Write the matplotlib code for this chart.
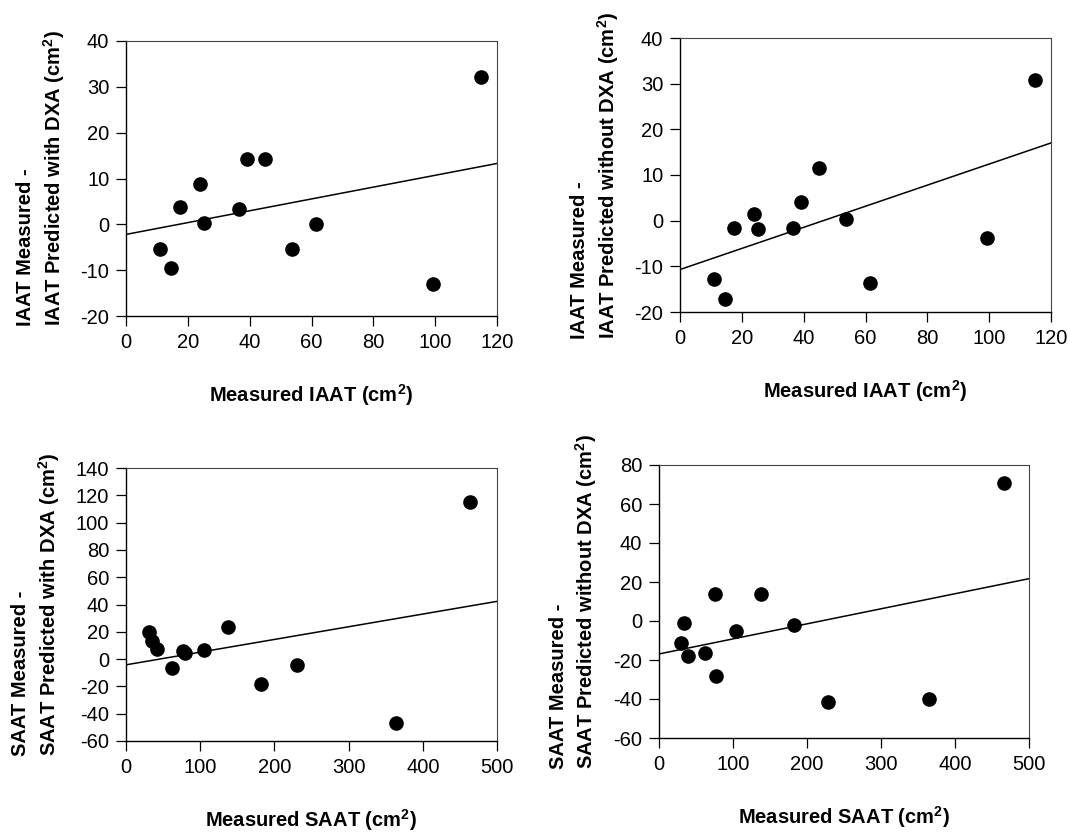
import numpy as np
import matplotlib
matplotlib.use("Agg")
import matplotlib.pyplot as plt

plt.rcParams['font.family'] = ['Liberation Sans', 'DejaVu Sans']
plt.rcParams['axes.unicode_minus'] = False
plt.rcParams['mathtext.fontset'] = 'custom'
plt.rcParams['mathtext.rm'] = 'Liberation Sans'
plt.rcParams['mathtext.bf'] = 'Liberation Sans:bold'

# ---- data ----
iaat_measured = [11.0, 14.6, 17.5, 23.8, 25.2, 36.6, 39.1, 45.1, 53.6, 61.3, 99.2, 114.8]
iaat_diff_with_dxa = [-5.4, -9.5, 3.8, 8.7, 0.4, 3.4, 14.2, 14.2, -5.4, 0.1, -13.0, 32.2]
iaat_diff_without_dxa = [-12.7, -17.2, -1.6, 1.5, -1.9, -1.6, 4.0, 11.5, 0.4, -13.6, -3.7, 30.9]

saat_measured_p3 = [30.6, 35.1, 42.3, 62.5, 76.4, 80.0, 105.2, 137.6, 181.7, 230.2, 363.8, 463.1]
saat_diff_with_dxa = [19.8, 13.2, 7.1, -6.4, 6.1, 4.6, 6.8, 23.5, -18.1, -4.6, -46.5, 114.9]
saat_measured_p4 = [29.7, 33.3, 39.6, 62.2, 76.1, 77.0, 103.6, 138.3, 182.0, 228.8, 364.4, 465.8]
saat_diff_without_dxa = [-11.3, -1.2, -17.8, -16.6, 14.0, -28.2, -5.1, 14.0, -1.9, -41.6, -40.0, 71.0]

fit_intercepts = [-2.2, -10.7, -4.2, -16.9]
fit_slopes = [0.129, 0.231, 0.093, 0.0772]

x_labels = ['Measured IAAT (cm$^{\\mathbf{2}}$)', 'Measured IAAT (cm$^{\\mathbf{2}}$)',
            'Measured SAAT (cm$^{\\mathbf{2}}$)', 'Measured SAAT (cm$^{\\mathbf{2}}$)']
y_labels = ['IAAT Measured -\nIAAT Predicted with DXA (cm$^{\\mathbf{2}}$)',
            'IAAT Measured -\nIAAT Predicted without DXA (cm$^{\\mathbf{2}}$)',
            'SAAT Measured -\nSAAT Predicted with DXA (cm$^{\\mathbf{2}}$)',
            'SAAT Measured -\nSAAT Predicted without DXA (cm$^{\\mathbf{2}}$)']

x_ticks = [np.arange(0, 121, 20), np.arange(0, 121, 20),
           np.arange(0, 501, 100), np.arange(0, 501, 100)]
y_ticks = [np.arange(-20, 41, 10), np.arange(-20, 41, 10),
           np.arange(-60, 141, 20), np.arange(-60, 81, 20)]

xs = [iaat_measured, iaat_measured, saat_measured_p3, saat_measured_p4]
ys = [iaat_diff_with_dxa, iaat_diff_without_dxa, saat_diff_with_dxa, saat_diff_without_dxa]

# ---- layout (pixels) ----
W, H = 1070, 832
boxes = [(126, 497, 41, 316), (680, 1051, 38, 312), (126, 497, 468, 741), (659, 1029, 465, 738)]

fig = plt.figure(figsize=(W / 100, H / 100), dpi=100)

for i in range(4):
    l, r, t, b = boxes[i]
    ax = fig.add_axes([l / W, (H - b) / H, (r - l) / W, (b - t) / H])
    x = np.array(xs[i]); y = np.array(ys[i])
    ax.plot(x, y, 'o', color='black', markersize=9.5, zorder=3)
    xt = x_ticks[i]; yt = y_ticks[i]
    xx = np.array([xt[0], xt[-1]])
    ax.plot(xx, fit_intercepts[i] + fit_slopes[i] * xx, color='black', linewidth=1.1, zorder=2)
    ax.set_xlim(xt[0], xt[-1]); ax.set_ylim(yt[0], yt[-1])
    ax.set_xticks(xt); ax.set_yticks(yt)
    ax.tick_params(direction='out', length=7, width=0.9, labelsize=14.5, pad=5, colors='black')
    for s in ['left', 'bottom']:
        ax.spines[s].set_linewidth(1.0)
    for s in ['top', 'right']:
        ax.spines[s].set_linewidth(0.8)
        ax.spines[s].set_color('#444444')
    ax.set_xlabel(x_labels[i], fontsize=14.5, fontweight='bold', labelpad=22)
    ax.set_ylabel(y_labels[i], fontsize=14.5, fontweight='bold', labelpad=10,
                  multialignment='left', linespacing=1.3)

fig.savefig('out.png', dpi=100, facecolor='white')
